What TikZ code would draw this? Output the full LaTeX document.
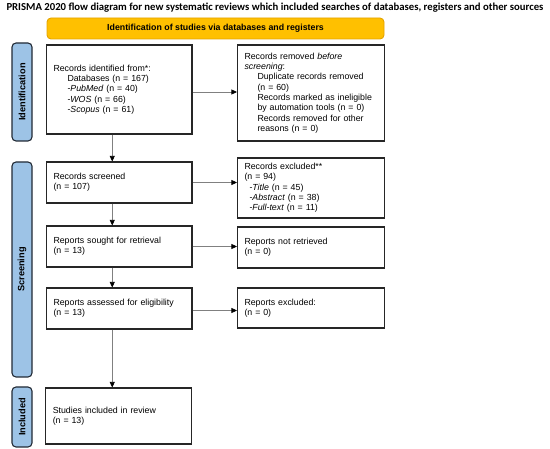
\documentclass[tikz,border=0pt]{standalone}
\usepackage{fontspec}
\setmainfont{Liberation Sans}
\newfontfamily\titlefont{Carlito}
\usetikzlibrary{arrows.meta}
\definecolor{sidefill}{HTML}{9DC3E6}
\definecolor{sideline}{HTML}{222A35}
\definecolor{banfill}{HTML}{FFC000}
\definecolor{banline}{HTML}{E3A300}
\definecolor{boxline}{HTML}{262626}
\definecolor{arrline}{HTML}{808080}
\begin{document}
\begin{tikzpicture}[x=1pt,y=-1pt,
  box/.style={draw=boxline,line width=1.1pt,fill=white,inner xsep=7pt,inner ysep=0pt,
    align=left,anchor=center,font=\fontsize{8.8}{10.3}\selectfont},
  lbox/.style={box,text width=131.5pt,minimum width=145.5pt},
  rbox/.style={box,text width=133pt,minimum width=147pt},
  side/.style={draw=sideline,line width=1.1pt,fill=sidefill,rounded corners=4pt,
    rotate=90,minimum height=20pt,inner sep=0pt,font=\bfseries\fontsize{9.2}{10}\selectfont},
  banner/.style={draw=banline,line width=0.9pt,fill=banfill,rounded corners=4pt,
    inner sep=0pt,font=\bfseries\fontsize{8.8}{10}\selectfont},
  arr/.style={draw=arrline,line width=0.7pt,-{Triangle[length=5.5pt,width=5pt,color=black]}}
]
\useasboundingbox (0,0) rectangle (550,449);

\node[font=\titlefont\bfseries\fontsize{10.7}{12}\selectfont] (title) at (275,8)
  {PRISMA 2020 flow diagram for new systematic reviews which included searches of databases, registers and other sources};

\node[banner,minimum width=337pt,minimum height=21pt] (ban) at (215.5,28.5)
  {Identification of studies via databases and registers};

\node[side,minimum width=98pt] (s1) at (22,92) {Identification};
\node[side,minimum width=215pt] (s2) at (22,269.5) {Screening};
\node[side,minimum width=60pt] (s3) at (22,417) {Included};

\node[lbox,minimum height=89pt] (b1) at (119.25,89.5)
  {Records identified from*:\\
   \hspace*{14pt}Databases (n = 167)\\
   \hspace*{14pt}-\textit{PubMed} (n = 40)\\
   \hspace*{14pt}-\textit{WOS} (n = 66)\\
   \hspace*{14pt}-\textit{Scopus} (n = 61)};

\node[rbox,minimum height=96pt] (b2) at (311,93)
  {Records removed \textit{before}\\
   \textit{screening}:\\
   \hspace*{13pt}Duplicate records removed\\
   \hspace*{13pt}(n = 60)\\
   \hspace*{13pt}Records marked as ineligible\\
   \hspace*{13pt}by automation tools (n = 0)\\
   \hspace*{13pt}Records removed for other\\
   \hspace*{13pt}reasons (n = 0)};

\node[lbox,minimum height=41pt] (b3) at (119.25,182.5)
  {Records screened\\(n = 107)};

\node[rbox,minimum height=60pt] (b4) at (311,188)
  {Records excluded**\\
   (n = 94)\\
   \hspace*{5pt}-\textit{Title} (n = 45)\\
   \hspace*{5pt}-\textit{Abstract} (n = 38)\\
   \hspace*{5pt}-\textit{Full-text} (n = 11)};

\node[lbox,minimum height=41pt] (b5) at (119.25,246.5)
  {Reports sought for retrieval\\(n = 13)};

\node[rbox,minimum height=41pt] (b6) at (311,247.5)
  {Reports not retrieved\\(n = 0)};

\node[lbox,minimum height=41pt] (b7) at (119.25,308.5)
  {Reports assessed for eligibility\\(n = 13)};

\node[rbox,minimum height=40pt] (b8) at (311,308)
  {Reports excluded:\\(n = 0)\\[6pt]};

\node[lbox,minimum height=56pt] (b9) at (118.5,416)
  {Studies included in review\\(n = 13)};

\draw[arr] ([yshift=-2.5pt]b1.east) -- ([yshift=-2.5pt]b1.east -| b2.west);
\draw[arr] (b3.east) -- (b3.east -| b4.west);
\draw[arr] (b5.east) -- (b5.east -| b6.west);
\draw[arr] ([yshift=-2pt]b7.east) -- ([yshift=-2pt]b7.east -| b8.west);

\draw[arr] ([xshift=-7pt]b1.south) -- ([xshift=-7pt]b1.south |- b3.north);
\draw[arr] ([xshift=-7pt]b3.south) -- ([xshift=-7pt]b3.south |- b5.north);
\draw[arr] ([xshift=-7pt]b5.south) -- ([xshift=-7pt]b5.south |- b7.north);
\draw[arr] ([xshift=-7pt]b7.south) -- ([xshift=-7pt]b7.south |- b9.north);
\end{tikzpicture}
\end{document}
